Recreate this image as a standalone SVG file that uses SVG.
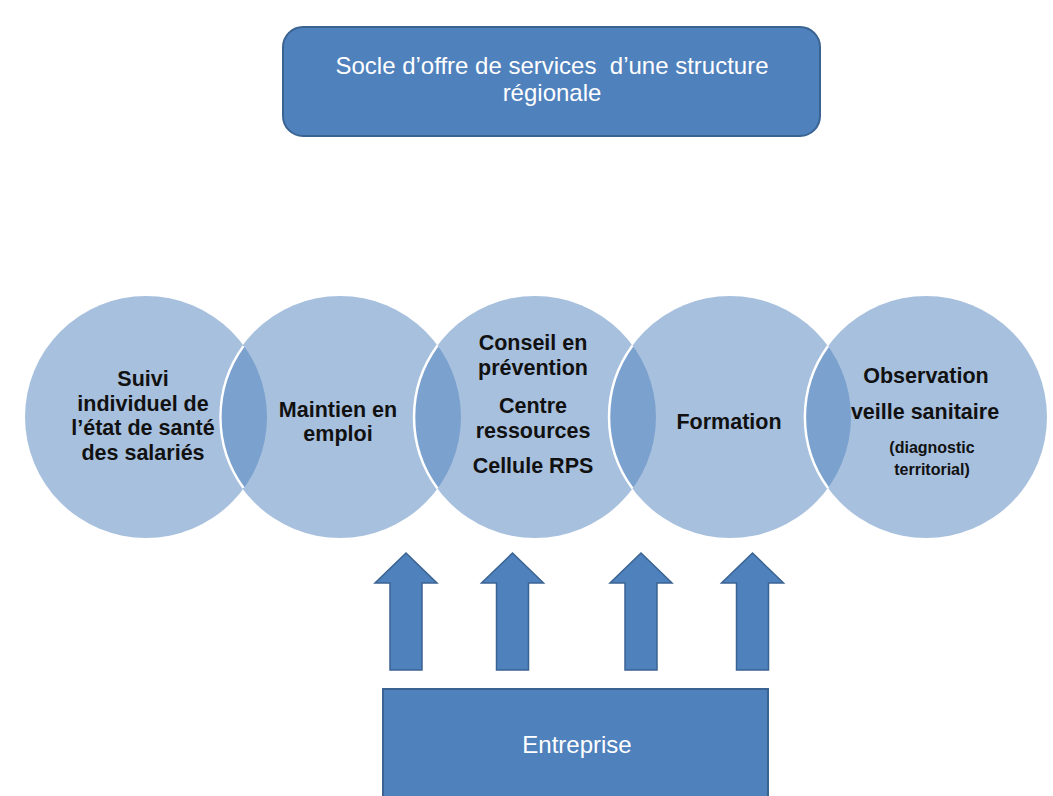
<svg xmlns="http://www.w3.org/2000/svg" width="1053" height="796" viewBox="0 0 1053 796">
  <style>
    .box { fill: #4f81bd; stroke: #3a6392; stroke-width: 2; }
    .boxtxt { fill: #ffffff; font-family: "Liberation Sans", Arial, sans-serif; font-size: 24px; text-anchor: middle; }
    .circ { fill: #4f81bd; fill-opacity: 0.5; stroke: none; }
    .edge { fill: none; stroke: #ffffff; stroke-width: 2.5; }
    .ctxt { fill: #111111; font-family: "Liberation Sans", Arial, sans-serif; font-weight: bold; font-size: 21.5px; text-anchor: middle; }
    .small { font-size: 16px; }
    .arrow { fill: #4f81bd; stroke: #3a6392; stroke-width: 1.5; }
  </style>
  <rect x="0" y="0" width="1053" height="796" fill="#ffffff"/>

  <g id="socle">
    <rect class="box" x="283" y="27" width="537" height="109" rx="20" ry="20"/>
    <text class="boxtxt" xml:space="preserve" x="552" y="74">Socle d’offre de services  d’une structure</text>
    <text class="boxtxt" x="552" y="101">régionale</text>
  </g>

  <g id="circles">
    <g id="suivi">
      <circle class="circ" cx="146" cy="417" r="121"/>
    </g>
    <g id="maintien">
      <circle class="circ" cx="340" cy="417" r="121"/>
    </g>
    <g id="conseil">
      <circle class="circ" cx="535" cy="417" r="121"/>
    </g>
    <g id="formation">
      <circle class="circ" cx="730" cy="417" r="121"/>
    </g>
    <g id="observation">
      <circle class="circ" cx="926" cy="417" r="121"/>
    </g>
    <path class="edge" d="M243.5,345.9 A121,121 0 0 0 243.5,488.1"/>
    <path class="edge" d="M437.5,345.4 A121,121 0 0 0 437.5,488.6"/>
    <path class="edge" d="M632.5,345.4 A121,121 0 0 0 632.5,488.6"/>
    <path class="edge" d="M828,345.9 A121,121 0 0 0 828,488.1"/>
  </g>

  <g id="labels">
    <text class="ctxt" x="143" y="386">Suivi</text>
    <text class="ctxt" x="143" y="410.5">individuel de</text>
    <text class="ctxt" x="143" y="435">l’état de santé</text>
    <text class="ctxt" x="143" y="459.5">des salariés</text>

    <text class="ctxt" x="338" y="416.5">Maintien en</text>
    <text class="ctxt" x="338" y="441">emploi</text>

    <text class="ctxt" x="533" y="350">Conseil en</text>
    <text class="ctxt" x="533" y="375">prévention</text>
    <text class="ctxt" x="533" y="413">Centre</text>
    <text class="ctxt" x="533" y="438">ressources</text>
    <text class="ctxt" x="533" y="473">Cellule RPS</text>

    <text class="ctxt" x="729" y="429">Formation</text>

    <text class="ctxt" x="926" y="383">Observation</text>
    <text class="ctxt" x="925" y="419">veille sanitaire</text>
    <text class="ctxt small" x="932" y="453">(diagnostic</text>
    <text class="ctxt small" x="932" y="475">territorial)</text>
  </g>

  <g id="connectors">
    <polygon class="arrow" points="406,553 437,583 422,583 422,670 390,670 390,583 375,583"/>
    <polygon class="arrow" points="512.5,553 543.5,583 528.5,583 528.5,670 496.5,670 496.5,583 481.5,583"/>
    <polygon class="arrow" points="641,553 672,583 657,583 657,670 625,670 625,583 610,583"/>
    <polygon class="arrow" points="752.5,553 783.5,583 768.5,583 768.5,670 736.5,670 736.5,583 721.5,583"/>
  </g>

  <g id="entreprise">
    <rect class="box" x="383" y="689" width="385" height="120"/>
    <text class="boxtxt" x="577" y="753">Entreprise</text>
  </g>
</svg>
